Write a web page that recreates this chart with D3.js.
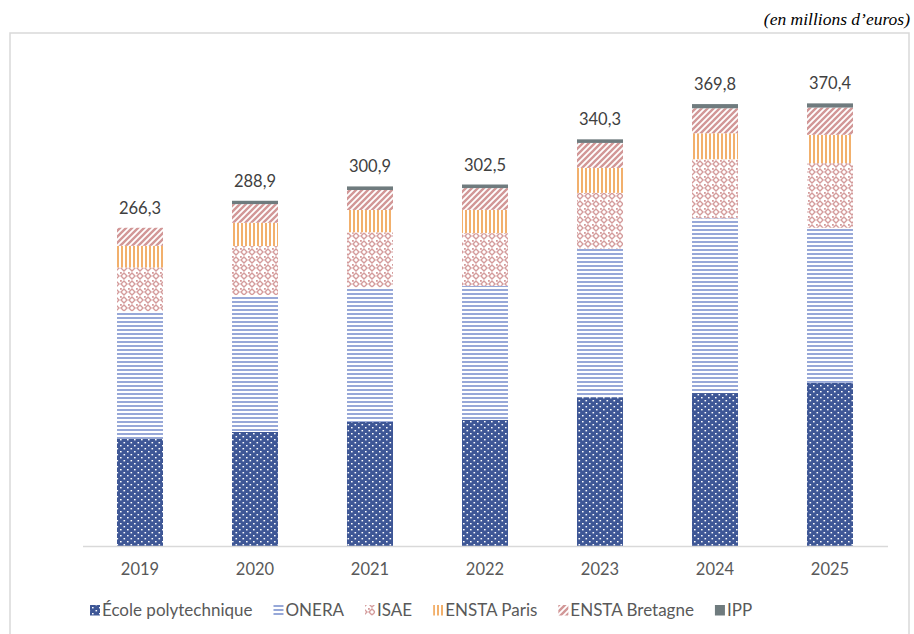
<!DOCTYPE html>
<html>
<head>
<meta charset="utf-8">
<script src="https://cdn.jsdelivr.net/npm/d3@7"></script>
<style>
  body { margin: 0; background: #fff; }
  text { font-family: Lato, "Noto Sans", sans-serif; }
</style>
</head>
<body>
<svg id="chart" width="914" height="634"></svg>
<script>
// values (millions d'euros)
const years = ["2019", "2020", "2021", "2022", "2023", "2024", "2025"];
const polytechnique = [90.0, 95.4, 103.8, 105.6, 124.5, 128.0, 136.6];
const onera = [106.5, 114.6, 112.7, 112.1, 124.4, 146.2, 129.7];
const isae = [36.6, 41.0, 46.0, 44.1, 46.6, 49.4, 54.1];
const enstaParis = [18.1, 19.5, 18.7, 19.5, 20.9, 21.8, 23.7];
const enstaBretagne = [15.1, 15.6, 16.7, 18.2, 20.9, 20.9, 22.8];
const ipp = [0, 2.8, 3.0, 3.0, 3.0, 3.5, 3.5];
const seriesNames = ["École polytechnique", "ONERA", "ISAE", "ENSTA Paris", "ENSTA Bretagne", "IPP"];
const seriesValues = [polytechnique, onera, isae, enstaParis, enstaBretagne, ipp];

const svg = d3.select("#chart");
const defs = svg.append("defs");

// fill patterns, one per series
function pattern(id, w, h, draw) {
  const p = defs.append("pattern").attr("id", id)
    .attr("patternUnits", "userSpaceOnUse").attr("width", w).attr("height", h);
  draw(p);
}
pattern("p0", 7, 6, p => {
  p.append("rect").attr("width", 7).attr("height", 6).attr("fill", "#3E5796");
  p.append("rect").attr("x", 1).attr("y", 1).attr("width", 1.6).attr("height", 1.4).attr("fill", "#fff");
  p.append("rect").attr("x", 4.5).attr("y", 4).attr("width", 1.6).attr("height", 1.4).attr("fill", "#fff");
});
pattern("p1", 4, 4, p => {
  p.append("rect").attr("width", 4).attr("height", 4).attr("fill", "#fff");
  p.append("rect").attr("y", 1).attr("width", 4).attr("height", 2).attr("fill", "#97A8D8");
});
pattern("p2", 8, 8, p => {
  p.append("rect").attr("width", 8).attr("height", 8).attr("fill", "#fff");
  p.append("path").attr("d", "M4,1 L7,4 L4,7 L1,4 Z").attr("fill", "none")
    .attr("stroke", "#D49B9B").attr("stroke-width", 1.4);
  p.append("rect").attr("x", 0).attr("y", 0).attr("width", 1.8).attr("height", 1.8).attr("fill", "#D49B9B");
});
pattern("p3", 4, 4, p => {
  p.append("rect").attr("width", 4).attr("height", 4).attr("fill", "#fff");
  p.append("rect").attr("x", 1).attr("width", 2).attr("height", 4).attr("fill", "#F2B06C");
});
pattern("p4", 6, 6, p => {
  p.append("rect").attr("width", 6).attr("height", 6).attr("fill", "#fff");
  p.append("path").attr("d", "M-1,7 L7,-1 M-4,4 L4,-4 M2,10 L10,2")
    .attr("stroke", "#D29797").attr("stroke-width", 2.4);
});
const fills = ["url(#p0)", "url(#p1)", "url(#p2)", "url(#p3)", "url(#p4)", "#6F7B7E"];

// frame
svg.append("rect").attr("x", 10).attr("y", 33).attr("width", 899).attr("height", 640)
  .attr("fill", "none").attr("stroke", "#D9D9D9").attr("stroke-width", 1.5);

svg.append("text").attr("x", 910).attr("y", 25).attr("text-anchor", "end")
  .style("font-family", "'Liberation Serif', serif").style("font-style", "italic")
  .style("font-size", "17.5px").attr("fill", "#000")
  .text("(en millions d\u2019euros)");

// scales
const x = d3.scaleBand().domain(years).range([82.5, 887.5]).paddingInner(0.6).paddingOuter(0.3);
const y = d3.scaleLinear().domain([0, 400]).range([546, 68]);

const table = years.map((yr, i) => {
  const row = { year: yr };
  seriesNames.forEach((s, j) => row[s] = seriesValues[j][i]);
  return row;
});
const stacked = d3.stack().keys(seriesNames)(table);

svg.append("g").selectAll("g")
  .data(stacked)
  .join("g")
  .attr("fill", (d, i) => fills[i])
  .selectAll("rect")
  .data(d => d)
  .join("rect")
  .attr("x", d => x(d.data.year))
  .attr("width", x.bandwidth())
  .attr("y", d => y(d[1]))
  .attr("height", d => y(d[0]) - y(d[1]));

// baseline axis
const xAxis = svg.append("g").attr("transform", "translate(0,546)")
  .call(d3.axisBottom(x).tickSize(0).tickPadding(17));
xAxis.select(".domain").attr("stroke", "#D9D9D9").attr("stroke-width", 1.5);
xAxis.selectAll("text").style("font-size", "16.5px").attr("fill", "#595959")
  .style("font-family", "Lato, sans-serif");

// total labels
const fr = d3.formatLocale({ decimal: ",", thousands: " ", grouping: [3], currency: ["", " €"] });
const fmt = fr.format(".1f");
svg.append("g").selectAll("text")
  .data(table)
  .join("text")
  .attr("x", d => x(d.year) + x.bandwidth() / 2)
  .attr("y", d => y(d3.sum(seriesNames, s => d[s])) - 14)
  .attr("text-anchor", "middle")
  .style("font-size", "16.5px")
  .attr("fill", "#404040")
  .text(d => fmt(d3.sum(seriesNames, s => d[s])));

// legend
const legend = svg.append("g");
let lx = 90;
seriesNames.forEach((name, i) => {
  legend.append("rect").attr("x", lx).attr("y", 605).attr("width", 10).attr("height", 10.5)
    .attr("fill", fills[i]);
  const t = legend.append("text").attr("x", lx + 12).attr("y", 616)
    .style("font-size", "17px").attr("fill", "#595959").text(name);
  lx += 12 + t.node().getComputedTextLength() + 21;
});
</script>
</body>
</html>
